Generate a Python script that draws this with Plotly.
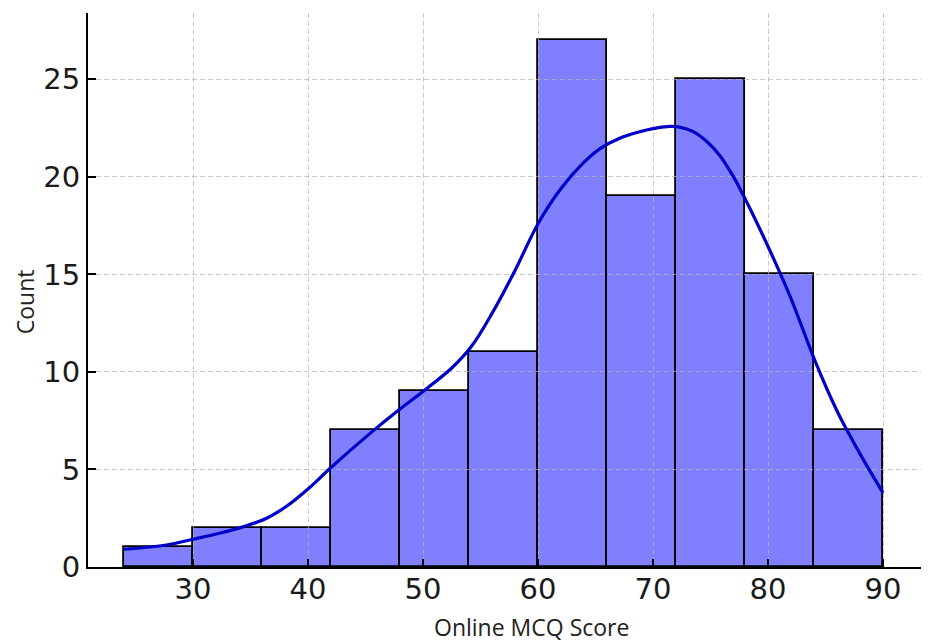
import plotly.graph_objects as go

# ---- data ----
bin_edges = [24, 30, 36, 42, 48, 54, 60, 66, 72, 78, 84, 90]
counts = [1, 2, 2, 7, 9, 11, 27, 19, 25, 15, 7]

kde_x = [24, 27.7, 30, 32.3, 34.4, 36.4, 38.1, 40, 42, 45.5, 48, 50, 52.5,
         54.2, 56, 58, 60, 62, 64, 65.4, 67.1, 68.9, 70, 71.2, 72.3, 73.5,
         74.7, 75.8, 77, 78.2, 80.1, 81.9, 84.2, 86, 88, 90]
kde_y = [0.91, 1.13, 1.42, 1.73, 2.07, 2.5, 3.1, 4.0, 5.1, 6.9, 8.1, 9.0, 10.2,
         11.3, 13.0, 15.2, 17.6, 19.4, 20.75, 21.45, 21.98, 22.32, 22.47,
         22.58, 22.55, 22.32, 21.8, 21.1, 20.0, 18.65, 16.3, 13.9, 10.4, 8.0,
         5.8, 3.8]

x_ticks = [30, 40, 50, 60, 70, 80, 90]
y_ticks = [0, 5, 10, 15, 20, 25]
x_title = "Online MCQ Score"
y_title = "Count"

centers = [(a + b) / 2 for a, b in zip(bin_edges[:-1], bin_edges[1:])]
widths = [b - a for a, b in zip(bin_edges[:-1], bin_edges[1:])]

x_range = [20.87, 93.3]
y_range = [0, 28.4]

fig = go.Figure()
fig.add_trace(go.Bar(
    x=centers, y=counts, width=widths,
    marker=dict(color="#8080ff", line=dict(color="black", width=1.8)),
    xaxis="x", yaxis="y", showlegend=False, hoverinfo="skip",
))
fig.add_trace(go.Scatter(
    x=kde_x, y=kde_y, mode="lines",
    line=dict(color="#0000c8", width=3.2, shape="spline", smoothing=1.0),
    xaxis="x2", yaxis="y2", showlegend=False, hoverinfo="skip",
))

tick_font = dict(family="DejaVu Sans", size=29, color="#1a1a1a")
grid_col = "rgba(180,180,180,0.7)"

fig.update_layout(
    width=921, height=636,
    margin=dict(l=80, r=8, t=5, b=77),
    paper_bgcolor="white",
    plot_bgcolor="rgba(0,0,0,0)",
    bargap=0,
    xaxis=dict(range=x_range, visible=False, domain=[0, 1]),
    yaxis=dict(range=y_range, visible=False, domain=[0, 1]),
    xaxis2=dict(
        range=x_range, domain=[0, 1], anchor="y2",
        tickmode="array", tickvals=x_ticks,
        ticks="inside", ticklen=8, tickwidth=1.6, tickcolor="black",
        showline=True, linewidth=2, linecolor="black",
        showgrid=True, gridcolor=grid_col, gridwidth=1, griddash="5px,3px",
        zeroline=False, tickfont=tick_font, ticklabelstandoff=-5,
    ),
    yaxis2=dict(
        range=y_range, domain=[0, 1], anchor="x2",
        tickmode="array", tickvals=y_ticks,
        ticks="inside", ticklen=8, tickwidth=1.6, tickcolor="black",
        showline=True, linewidth=2, linecolor="black",
        showgrid=True, gridcolor=grid_col, gridwidth=1, griddash="5px,3px",
        zeroline=False, tickfont=tick_font, ticklabelstandoff=0,
    ),
    annotations=[
        dict(text=x_title, xref="paper", yref="paper", x=0.533, y=-0.1083,
             xanchor="center", yanchor="middle", showarrow=False,
             font=dict(family="Open Sans", size=23, color="#222")),
        dict(text=y_title, xref="paper", yref="paper", x=-0.0756, y=0.478,
             xanchor="center", yanchor="middle", showarrow=False, textangle=-90,
             font=dict(family="Open Sans", size=23, color="#222")),
    ],
)

fig.write_html("out.html")
